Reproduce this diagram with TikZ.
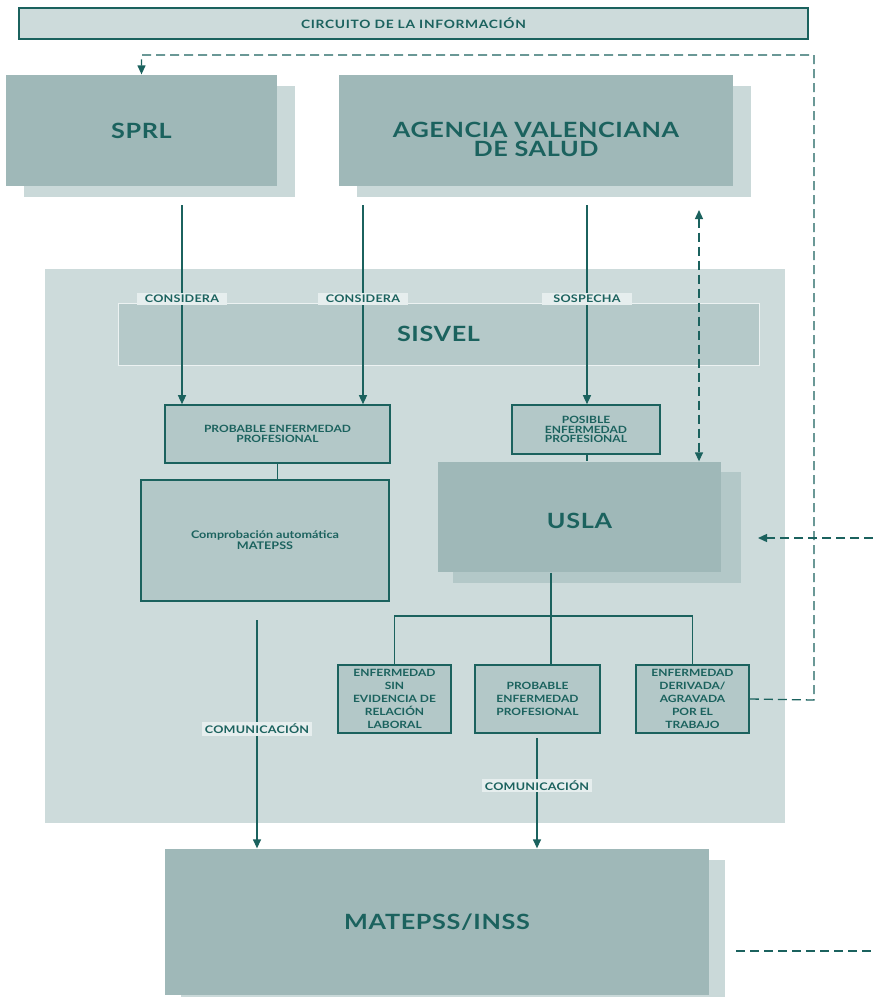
\documentclass[tikz,border=0pt]{standalone}
\usepackage{fontspec}
\setmainfont{Lato}
\newfontfamily\widefont[FakeStretch=1.2, LetterSpace=3]{Lato}
\newfontfamily\smallfont[FakeStretch=1.2]{Lato}
\newfontfamily\labelfont[FakeStretch=1.2, LetterSpace=2]{Lato}
\newfontfamily\titlefont[FakeStretch=1.2, LetterSpace=6]{Lato}
\usetikzlibrary{arrows.meta,calc}
\definecolor{tealdark}{HTML}{1B625E}
\definecolor{boxbig}{HTML}{9FB8B8}
\definecolor{boxshade}{HTML}{CAD9D9}
\definecolor{panelbg}{HTML}{CDDBDB}
\definecolor{bandbg}{HTML}{B5C9C9}
\definecolor{boxsmall}{HTML}{B3C8C8}
\definecolor{labelbg}{HTML}{E6EEEE}

\begin{document}
\begin{tikzpicture}[x=1pt, y=-1pt, >={Triangle[length=9pt,width=8pt]}, line width=1.3pt, draw=tealdark]
\tikzstyle{big}=[fill=boxbig, text=tealdark, font=\widefont\bfseries\fontsize{21}{19}\selectfont, align=center, inner sep=0pt]
\tikzstyle{shade}=[fill=boxshade, inner sep=0pt]
\tikzstyle{small}=[draw=tealdark, line width=1.6pt, fill=boxsmall, text=tealdark, font=\smallfont\bfseries\fontsize{10}{9.5}\selectfont, align=center, inner sep=0pt]
\tikzstyle{tall}=[small, font=\smallfont\bfseries\fontsize{10}{13}\selectfont, minimum height=68pt]
\tikzstyle{lbl}=[fill=labelbg, text=tealdark, font=\labelfont\bfseries\fontsize{10.5}{11}\selectfont, inner sep=2pt, minimum width=90pt]
\tikzstyle{dashline}=[draw=tealdark, line width=1.3pt, dash pattern=on 9pt off 5pt]

\fill[white] (0,0) rectangle (873,997);
\useasboundingbox (0,0) rectangle (873,997);

% title
\node[draw=tealdark, line width=1.6pt, fill=panelbg, text=tealdark, font=\titlefont\bfseries\fontsize{11.5}{12}\selectfont,
      minimum width=789pt, minimum height=31pt, inner sep=0pt] (titulo) at (413.5,23.5) {CIRCUITO DE LA INFORMACIÓN};

% upper boxes
\node[shade, minimum width=271pt, minimum height=111pt] (sprlsh) at (159.5,141.5) {};
\node[big, minimum width=271pt, minimum height=111pt] (sprl) at (141.5,130.5) {SPRL};
\node[shade, minimum width=394pt, minimum height=111pt] (avssh) at (554,141.5) {};
\node[big, text height=52pt, minimum width=394pt, minimum height=111pt] (avs) at (536,130.5) {AGENCIA VALENCIANA\\DE SALUD};

% sisvel area
\node[fill=panelbg, minimum width=740pt, minimum height=554pt, inner sep=0pt] (panel) at (415,546) {};
\node[big, fill=bandbg, draw=white!75!bandbg, line width=1pt, minimum width=641pt, minimum height=62pt] (sisvel) at (438.5,334) {SISVEL};

\node[small, minimum width=225pt, minimum height=58pt] (pep) at (277.5,434) {PROBABLE ENFERMEDAD\\PROFESIONAL};
\node[small, minimum width=148pt, minimum height=49pt] (posible) at (586,429.5) {POSIBLE\\ENFERMEDAD\\PROFESIONAL};
\node[small, font=\smallfont\bfseries\fontsize{10.5}{11}\selectfont, minimum width=248pt, minimum height=121pt] (comp) at (265,540.5) {Comprobación automática\\MATEPSS};

\node[fill=boxsmall, minimum width=288pt, minimum height=111pt, inner sep=0pt] (uslash) at (597,527.5) {};
\node[big, text height=24pt, minimum width=283pt, minimum height=110pt] (usla) at (579.5,517) {USLA};

\node[tall, minimum width=113pt] (sin) at (394.5,699) {ENFERMEDAD\\SIN\\EVIDENCIA DE\\RELACIÓN\\LABORAL};
\node[tall, minimum width=125pt] (prob) at (537.5,699) {PROBABLE\\ENFERMEDAD\\PROFESIONAL};
\node[tall, minimum width=113pt] (deriv) at (692.5,699) {ENFERMEDAD\\DERIVADA/\\AGRAVADA\\POR EL\\TRABAJO};

% bottom box
\node[shade, minimum width=544pt, minimum height=146pt] (matsh) at (453,933) {};
\node[big, minimum width=544pt, minimum height=146pt] (matepss) at (437,922) {MATEPSS/INSS};

% solid connectors
\coordinate (c1) at (182,205);
\coordinate (c2) at (363,205);
\coordinate (c3) at (587,205);
\draw[->] (c1) -- (c1 |- pep.north) node[lbl, pos=0.47] {CONSIDERA};
\draw[->] (c2) -- (c2 |- pep.north) node[lbl, pos=0.47] {CONSIDERA};
\draw[->] (c3) -- (c3 |- posible.north) node[lbl, pos=0.47] {SOSPECHA};
\draw (pep.south) -- (pep.south |- comp.north);
\draw (c3 |- posible.south) -- (c3 |- usla.north);

\coordinate (stem) at (551,616);
\draw (stem |- usla.south) -- (stem);
\draw (sin.north) |- (stem) -| (deriv.north);
\draw (stem) -- (stem |- prob.north);

\coordinate (c4) at (257,620);
\coordinate (c5) at (537,738);
\draw[->] (c4) -- (c4 |- matepss.north) node[lbl, minimum width=110pt, pos=0.476] {COMUNICACIÓN};
\draw[->] (c5) -- (c5 |- matepss.north) node[lbl, minimum width=110pt, pos=0.43] {COMUNICACIÓN};

% dashed connectors
\coordinate (e1) at (814,700);
\coordinate (e2) at (814,55);
\draw[dashline, ->] (deriv.east) -- (e1) -- (e2) -| (sprl.north);

\coordinate (d1) at (699,210);
\draw[dashline, <->] (d1) -- (d1 |- usla.north);

\coordinate (r1) at (873,538);
\coordinate (r2) at (758,538);
\draw[dashline, ->] (r1) -- (r2);

\coordinate (b1) at (736,951);
\coordinate (b2) at (873,951);
\draw[dashline] (b1) -- (b2);
\end{tikzpicture}
\end{document}
